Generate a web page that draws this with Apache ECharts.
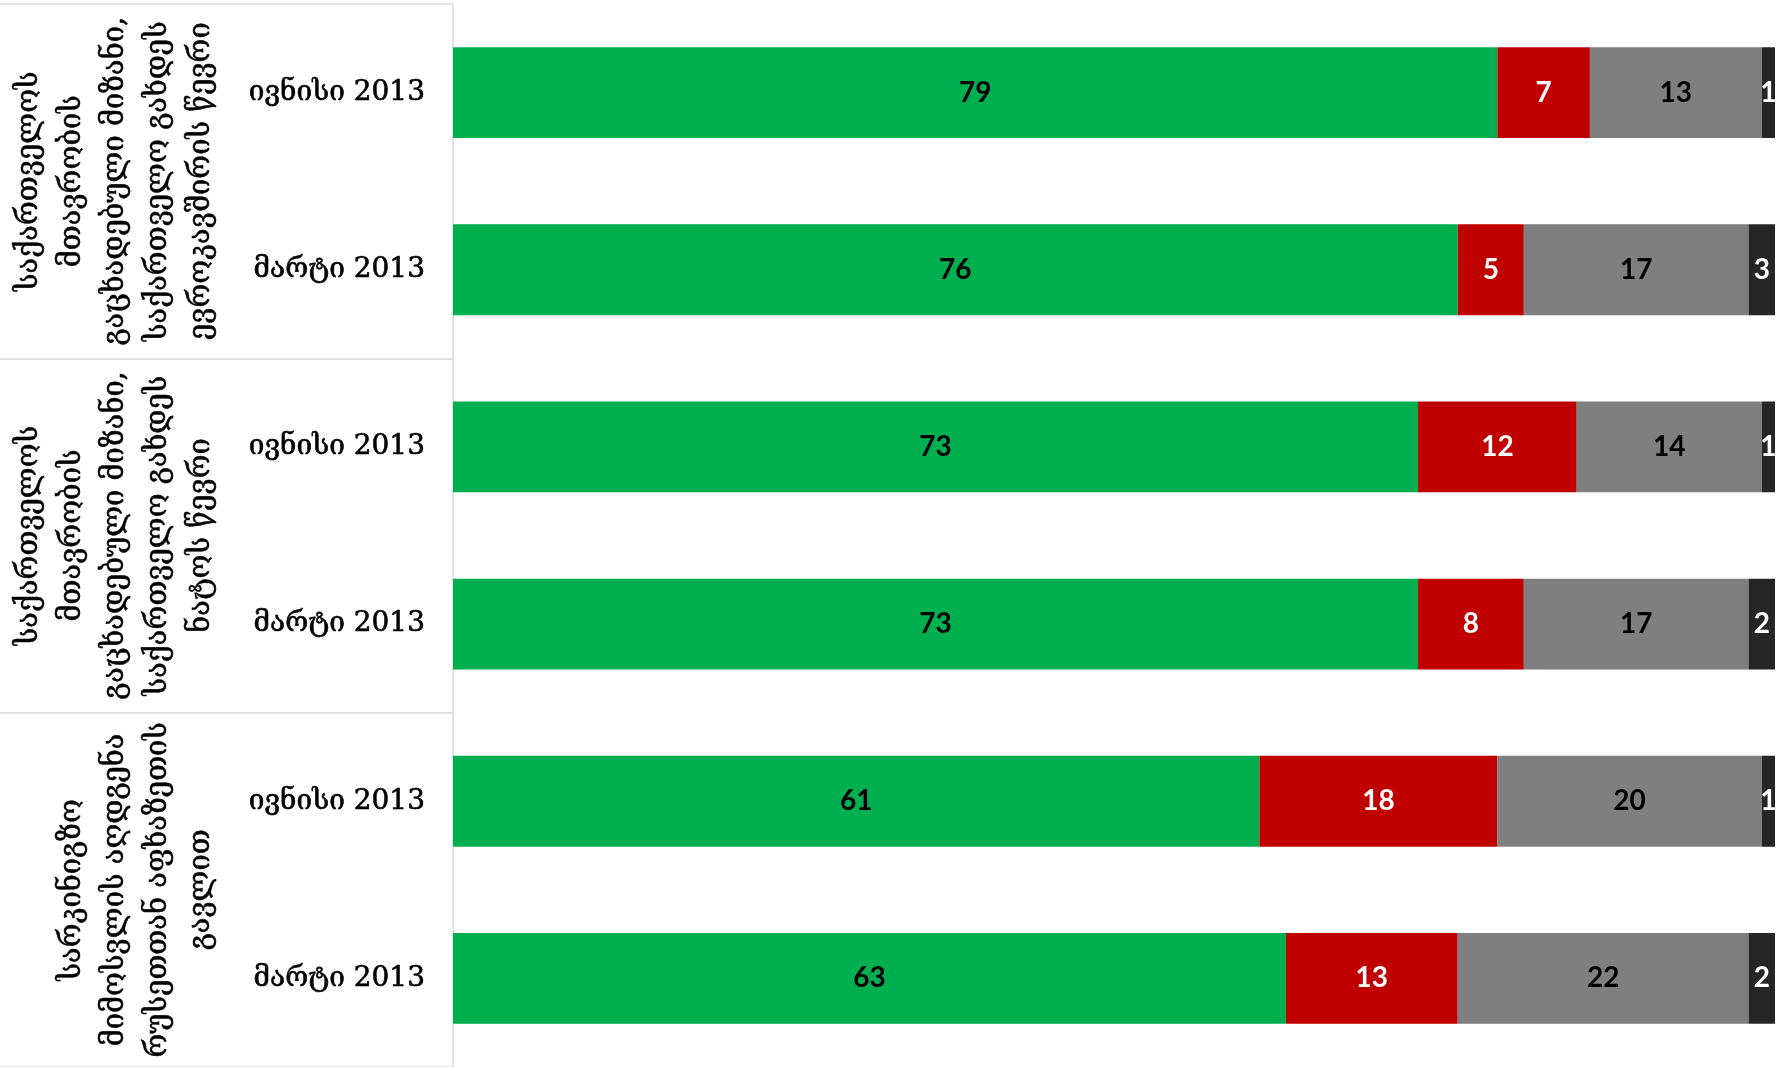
<!DOCTYPE html>
<html>
<head>
<meta charset="utf-8">
<script src="https://cdn.jsdelivr.net/npm/echarts@6/dist/echarts.min.js"></script>
<style>
  html, body { margin: 0; padding: 0; background: #ffffff; }
  #chart { width: 1789px; height: 1067px; }
</style>
</head>
<body>
<div id="chart"></div>
<script>
// Survey waves, one bar per row (top to bottom)
const waves = ['ივნისი 2013', 'მარტი 2013', 'ივნისი 2013', 'მარტი 2013', 'ივნისი 2013', 'მარტი 2013'];

// Question groups, each spanning two waves
const questions = [
  'საქართველოს\nმთავრობის\nგაცხადებული მიზანი,\nსაქართველო გახდეს\nევროკავშირის წევრი',
  'საქართველოს\nმთავრობის\nგაცხადებული მიზანი,\nსაქართველო გახდეს\nნატოს წევრი',
  'სარკინიგზო\nმიმოსვლის აღდგენა\nრუსეთთან აფხაზეთის\nგავლით'
];

// Answer shares, %
const approve    = [79, 76, 73, 73, 61, 63];
const disapprove = [7, 5, 12, 8, 18, 13];
const dontKnow   = [13, 17, 14, 17, 20, 22];
const refuse     = [1, 3, 1, 2, 1, 2];

const geoFont = "'DejaVu Serif', 'Noto Serif', serif";
const numFont = "Lato, 'Open Sans', sans-serif";

function segment(name, data, color, labelColor) {
  return {
    name: name,
    type: 'bar',
    stack: 'total',
    yAxisIndex: 0,
    barWidth: '51.3%',
    data: data,
    itemStyle: { color: color },
    label: {
      show: true,
      position: 'inside',
      color: labelColor,
      fontFamily: numFont,
      fontWeight: 'bold',
      fontSize: 28
    }
  };
}

const chart = echarts.init(document.getElementById('chart'), null, { renderer: 'canvas' });

chart.setOption({
  animation: false,
  backgroundColor: '#ffffff',
  grid: { left: 453, right: 14, top: 4, height: 1064, containLabel: false },
  xAxis: {
    type: 'value',
    min: 0,
    max: 100,
    show: false
  },
  yAxis: [
    {
      type: 'category',
      data: waves,
      inverse: true,
      position: 'left',
      axisLine: { show: true, lineStyle: { color: '#d9d9d9', width: 1.5 } },
      axisTick: { show: false },
      axisLabel: {
        margin: 28,
        fontFamily: geoFont,
        fontSize: 28,
        color: '#000000',
        textBorderColor: '#000000',
        textBorderWidth: 0.6
      }
    },
    {
      type: 'category',
      data: questions,
      inverse: true,
      position: 'left',
      axisLine: { show: false },
      axisTick: {
        show: true,
        inside: false,
        length: 453,
        lineStyle: { color: '#d9d9d9', width: 1.5 }
      },
      axisLabel: {
        rotate: 90,
        margin: 230,
        interval: 0,
        fontFamily: geoFont,
        fontSize: 29,
        lineHeight: 43,
        align: 'center',
        color: '#000000',
        textBorderColor: '#000000',
        textBorderWidth: 0.5
      }
    }
  ],
  series: [
    segment('Approve', approve, '#00b050', '#000000'),
    segment('Disapprove', disapprove, '#c00000', '#ffffff'),
    segment("Don't know", dontKnow, '#7f7f7f', '#000000'),
    segment('Refuse to answer', refuse, '#262626', '#ffffff')
  ]
});
</script>
</body>
</html>
